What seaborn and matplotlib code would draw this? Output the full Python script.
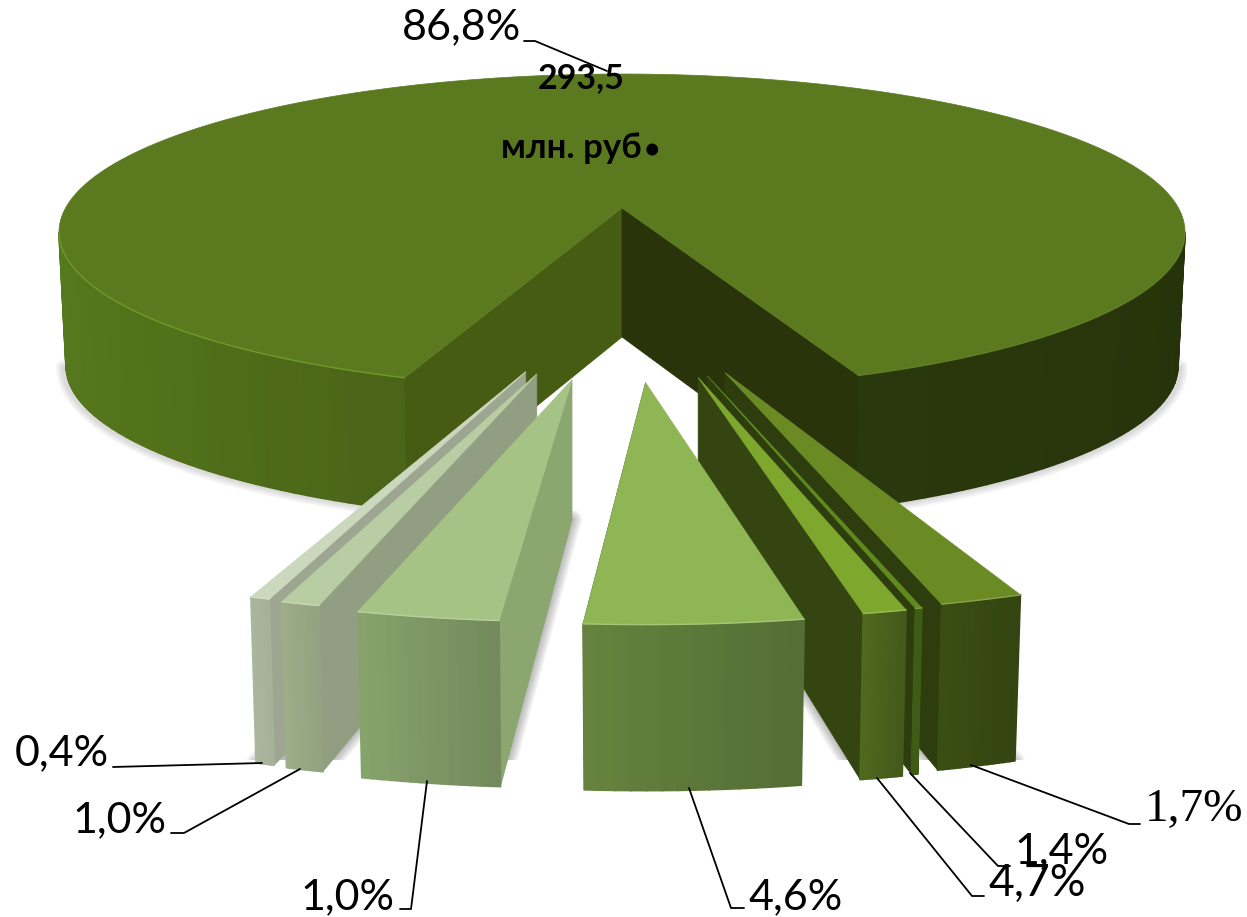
import numpy as np
import matplotlib
matplotlib.use('Agg')
import matplotlib.pyplot as plt
from matplotlib.patches import Rectangle
import seaborn as sns

# values
main_share = 86.8
main_label = '86,8%'
main_value = ['293,5', 'млн. руб']

# printed labels do not follow the drawn slice widths in the source chart,
# so the widths are kept separately (right to left, in percent of the circle)
slice_shares = [1.78, 0.14, 0.94, 4.72, 3.06, 0.83, 0.42]
slice_labels = ['1,7%', '1,4%', '4,7%', '4,6%', '1,0%', '1,0%', '0,4%']

top_colors = ['#6A8B24', '#5F8A20', '#7EA72D', '#8FB655', '#A6C386', '#B8CDA3', '#CBD8BD']
wall_colors = ['#2E3D0D', '#2E3D0D', '#354512', '#354512', '#8BA66F', '#929E82', '#9DA690']
front_left = ['#3A4E12', '#3F5C16', '#4F6A1E', '#65823F', '#86A36C', '#9DAE88', '#ABB6A0']
front_right = ['#344511', '#3F5C16', '#44591A', '#546E35', '#748A5C', '#93A280', '#A6B199']

sns.set_theme(style='white')
plt.rcParams['font.family'] = ['Lato', 'Noto Sans', 'DejaVu Sans']

fig = plt.figure(figsize=(12.47, 9.17), dpi=100)
ax = fig.add_axes([0, 0, 1, 1])
ax.set_xlim(0, 1247)
ax.set_ylim(917, 0)
ax.axis('off')


def arc(t0, t1, cx, cy, rx, ry, n=60):
    # t = 0 points at the viewer, t grows to the right
    t = np.radians(np.linspace(t0, t1, n))
    return cx + rx * np.sin(t), cy + ry * np.cos(t)


def poly(x, y, color, z=2, lw=0.5):
    ax.fill(x, y, facecolor=color, edgecolor=color, lw=lw, zorder=z)


def blur(x, y, z=1, clip=None, strength=0.035, width=14):
    for w in np.arange(2, width, 2):
        p, = ax.plot(np.r_[x, x[0]], np.r_[y, y[0]], color='#303030', alpha=strength,
                     lw=w, zorder=z, solid_joinstyle='round')
        if clip is not None:
            p.set_clip_path(clip)


def wall(t0, t1, top, bottom, colors, z=2):
    # gradient outer wall, one narrow strip per colour
    edges = np.linspace(t0, t1, len(colors) + 1)
    for a, b, c in zip(edges[:-1], edges[1:], colors):
        xt, yt = arc(a, b, *top, n=6)
        xb, yb = arc(a, b, *bottom, n=6)
        poly(np.r_[xt, xb[::-1]], np.r_[yt, yb[::-1]], c, z, lw=1.2)


# big slice
gap = 360 * (100 - main_share) / 100
t_right = 1.05 + gap / 2
t_left = 1.05 - gap / 2
apex = (622, 208)
depth = 134
top_ell = (622, 232, 563, 158)
bot_ell = (622, 232 + depth, 556, 157)

xs, ys = arc(-90, t_left, *bot_ell)
blur(xs - 3, ys + 1, strength=0.035, width=12)
xs, ys = arc(t_right, 90, *bot_ell)
blur(xs + 3, ys + 1, strength=0.035, width=12)

wall(-90, t_left, top_ell, bot_ell, sns.blend_palette(['#587A1F', '#52721A', '#4A6418'], 40))
wall(t_right, 90, top_ell, bot_ell, sns.blend_palette(['#2A380E', '#29360C', '#26330A'], 40))

for t, color in ((t_left, '#465C13'), (t_right, '#29340B')):
    xt, yt = arc(t, t, *top_ell, n=1)
    xb, yb = arc(t, t, *bot_ell, n=1)
    poly([apex[0], xt[0], xb[0], apex[0]], [apex[1], yt[0], yb[0], apex[1] + 129], color, 3)

xt, yt = arc(t_right, 360 + t_left, *top_ell, n=300)
poly(np.r_[apex[0], xt], np.r_[apex[1], yt], '#5B7A20', 4)
xr, yr = arc(-90, t_left, *top_ell)
ax.plot(xr, yr, color='#6F9A2A', lw=1, zorder=4)
xr, yr = arc(t_right, 90, *top_ell)
ax.plot(xr, yr, color='#5F8024', lw=1, zorder=4)

# exploded slices; the source leaves small angular gaps between some of them
floor = Rectangle((0, 0), 1247, 760, transform=ax.transData)
gaps_before = [0, 0.2, 0, 0.5, 0.8, 0.3, 0.1]
starts, ends = [], []
t = t_right - 1.6
for share, g in zip(slice_shares, gaps_before):
    t -= g
    starts.append(t)
    t -= 360 * share / 100
    ends.append(t)
starts, ends = np.array(starts), np.array(ends)
mids = (starts + ends) / 2
order = np.argsort(-np.abs(mids))

for rank, i in enumerate(order):
    t0, t1 = ends[i], starts[i]
    ax0 = 627 + 286 * np.sin(np.radians(mids[i]))
    ay0 = 208 + 175 * np.cos(np.radians(mids[i]))
    z = 10 + rank * 3
    top = (ax0, ay0, 750, 242)
    bottom = (ax0, ay0 + 166, 736, 242)
    inner = ay0 + 140

    xb, yb = arc(t0, t1, *bottom, n=12)
    blur(np.r_[ax0, xb], np.r_[inner, yb], z=5, clip=floor, strength=0.05, width=16)

    # the radial wall turned to the viewer
    t_side = t0 if mids[i] > 0 else t1
    xt, yt = arc(t_side, t_side, *top, n=1)
    xb, yb = arc(t_side, t_side, *bottom, n=1)
    poly([ax0, xt[0], xb[0], ax0], [ay0, yt[0], yb[0], inner], wall_colors[i], z)

    wall(t0, t1, top, bottom, sns.blend_palette([front_left[i], front_right[i]], 14), z + 1)

    xt, yt = arc(t0, t1, *top, n=20)
    poly(np.r_[ax0, xt], np.r_[ay0, yt], top_colors[i], z + 2)
    rim = sns.blend_palette([top_colors[i], 'white'], 6)[1]
    ax.plot(xt, yt, color=rim, lw=1, zorder=z + 2)

# texts and leader lines
label_x = [1145, 1014, 988, 748, 300, 72, 15]
label_y = [810, 851, 883, 897, 897, 820, 753]
label_size = [34, 31, 32, 31, 31, 31, 31]
leaders = [
    [(971, 765), (1129, 824), (1140, 824)],
    [(910, 773), (998, 866), (1010, 866)],
    [(877, 778), (972, 896), (984, 896)],
    [(689, 788), (731, 908), (744, 908)],
    [(427, 781), (411, 909), (400, 909)],
    [(300, 769), (184, 833), (171, 833)],
    [(262, 763), (113, 767)],
]
for i, lab in enumerate(slice_labels):
    pts = np.array(leaders[i])
    ax.plot(pts[:, 0], pts[:, 1], color='black', lw=1.3, zorder=60)
    family = ['Liberation Serif'] if i == 0 else None
    ax.text(label_x[i], label_y[i], lab, fontsize=label_size[i], color='black', va='center',
            ha='left', zorder=61 + i, family=family)

pts = np.array([(524, 41), (535, 41), (607, 71)])
ax.plot(pts[:, 0], pts[:, 1], color='black', lw=1.3, zorder=60)
ax.text(402, 27, main_label, fontsize=31, color='black', va='center', ha='left', zorder=61)
ax.text(581, 78, main_value[0], fontsize=24.5, fontweight='bold', color='black',
        va='center', ha='center', zorder=61)
ax.text(501, 148, main_value[1], fontsize=25, fontweight='bold', color='black',
        va='center', ha='left', zorder=61)
ax.text(652, 155, '.', fontsize=56, fontweight='bold', color='black',
        va='baseline', ha='center', zorder=61)

fig.savefig('out.png', dpi=100, facecolor='white')
